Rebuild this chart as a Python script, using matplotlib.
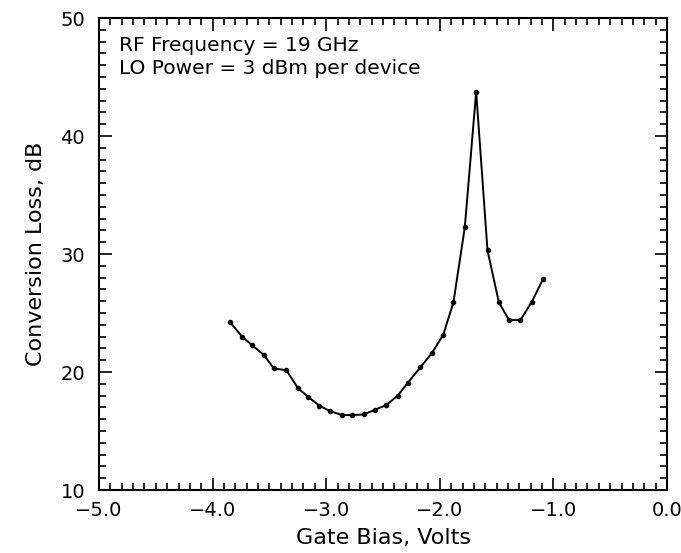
import matplotlib
matplotlib.use("Agg")
import matplotlib.pyplot as plt
from matplotlib.ticker import MultipleLocator, FuncFormatter

# gate bias (V) and conversion loss (dB)
gate_bias = [-3.85, -3.74, -3.65, -3.55, -3.46, -3.35, -3.25, -3.16, -3.06, -2.97,
             -2.86, -2.77, -2.67, -2.57, -2.47, -2.37, -2.28, -2.17, -2.07, -1.97,
             -1.88, -1.78, -1.68, -1.58, -1.48, -1.39, -1.29, -1.19, -1.09]
conv_loss = [24.25, 23.0, 22.25, 21.45, 20.3, 20.15, 18.65, 17.9, 17.15, 16.7,
             16.35, 16.35, 16.4, 16.8, 17.2, 18.0, 19.1, 20.4, 21.6, 23.15,
             25.9, 32.25, 43.75, 30.3, 25.9, 24.4, 24.4, 25.95, 27.9]

notes = ["RF Frequency = 19 GHz", "LO Power = 3 dBm per device"]

plt.rcParams['font.family'] = ['DejaVu Sans']

fig = plt.figure(figsize=(6.81, 5.53), dpi=100)
ax = fig.add_axes([99/681, 1 - 490/553, (667 - 99)/681, (490 - 18)/553])

ax.plot(gate_bias, conv_loss, color='black', lw=1.4, marker='o', ms=3.0)

ax.set_xlim(-5.0, 0.0)
ax.set_ylim(10, 50)
ax.xaxis.set_major_locator(MultipleLocator(1.0))
ax.xaxis.set_minor_locator(MultipleLocator(0.1))
ax.yaxis.set_major_locator(MultipleLocator(10))
ax.yaxis.set_minor_locator(MultipleLocator(1))
ax.xaxis.set_major_formatter(FuncFormatter(lambda v, p: ("%.1f" % v).replace("-", "\u2212")))

ax.tick_params(which='both', direction='in', top=True, right=True, width=1.2, labelsize=14)
ax.tick_params(which='major', length=9)
ax.tick_params(which='minor', length=5)
ax.tick_params(axis='x', pad=8)
ax.tick_params(axis='y', pad=10)
for s in ax.spines.values():
    s.set_linewidth(1.5)

ax.set_xlabel("Gate Bias, Volts", fontsize=16, labelpad=6)
ax.set_ylabel("Conversion Loss, dB", fontsize=16, labelpad=10)

ax.text(0.035, 0.962, notes[0] + "\n" + notes[1], transform=ax.transAxes,
        fontsize=14.5, va='top', ha='left', linespacing=1.3)

fig.savefig("out.png", dpi=100)
